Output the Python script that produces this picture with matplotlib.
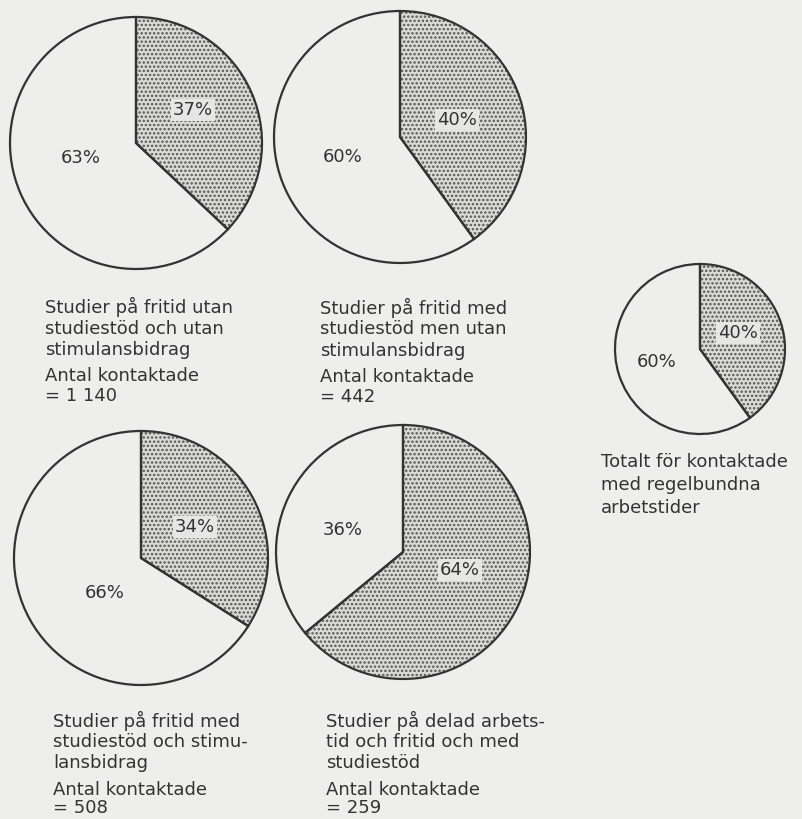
import matplotlib.pyplot as plt

plt.rcParams['font.family'] = ['DejaVu Sans']
plt.rcParams['hatch.linewidth'] = 1.2

BG = '#eeeeea'
INK = '#333333'

# share (percent) of the dotted wedge in each pie, other wedge is 100 - share
shares = [37, 40, 40, 34, 64]
descriptions = [
    ['Studier på fritid utan', 'studiestöd och utan', 'stimulansbidrag'],
    ['Studier på fritid med', 'studiestöd men utan', 'stimulansbidrag'],
    ['Totalt för kontaktade', 'med regelbundna', 'arbetstider'],
    ['Studier på fritid med', 'studiestöd och stimu-', 'lansbidrag'],
    ['Studier på delad arbets-', 'tid och fritid och med', 'studiestöd'],
]
counts = ['1 140', '442', None, '508', '259']

# layout (pixels, y from top)
centers = [(136, 143), (400, 137), (700, 349), (141, 558), (403, 552)]
radii = [126, 126, 85, 127, 127]
dot_lab = [(193, 110), (457, 120), (738, 333), (195, 527), (460, 570)]
plain_lab = [(81, 158), (343, 157), (657, 362), (105, 593), (343, 530)]
text_pos = [(45, 307), (320, 308), (601, 462), (53, 721), (326, 721)]
line_gap = [21.5, 21.5, 23, 21, 21]
count_gap = [20, 20, 20, 18, 18]

W, H = 803, 819
fig = plt.figure(figsize=(W / 100, H / 100), dpi=100, facecolor=BG)
ax = fig.add_axes([0, 0, 1, 1])
ax.set_facecolor(BG)

FS = 13
for i, s in enumerate(shares):
    cx, cy = centers[i]
    # dotted fill
    wedges, _ = ax.pie([s, 100 - s], center=(cx, H - cy), radius=radii[i],
                       startangle=90, counterclock=False,
                       colors=['#dcdcd7', BG],
                       wedgeprops=dict(edgecolor='#555552', linewidth=0))
    wedges[0].set_hatch('....')
    # outlines on top
    ax.pie([s, 100 - s], center=(cx, H - cy), radius=radii[i],
           startangle=90, counterclock=False,
           wedgeprops=dict(fill=False, edgecolor=INK, linewidth=1.6))

    bb = dict(boxstyle='square,pad=0.12', facecolor='#e6e6e2', edgecolor='none')
    x, y = dot_lab[i]
    ax.text(x, H - y, f'{s}%', ha='center', va='center', fontsize=FS,
            color=INK, bbox=bb)
    x, y = plain_lab[i]
    ax.text(x, H - y, f'{100 - s}%', ha='center', va='center', fontsize=FS,
            color=INK)

    tx, ty = text_pos[i]
    for k, line in enumerate(descriptions[i]):
        ax.text(tx, H - ty - k * line_gap[i], line, ha='left', va='center',
                fontsize=FS, color=INK)
    if counts[i]:
        ax.text(tx, H - ty - 69, 'Antal kontaktade', ha='left', va='center',
                fontsize=FS, color=INK)
        ax.text(tx, H - ty - 69 - count_gap[i], '= ' + counts[i], ha='left',
                va='center', fontsize=FS, color=INK)

ax.set_xlim(0, W)
ax.set_ylim(0, H)
ax.set_aspect('equal')
ax.axis('off')

fig.savefig('out.png', dpi=100, facecolor=BG)
